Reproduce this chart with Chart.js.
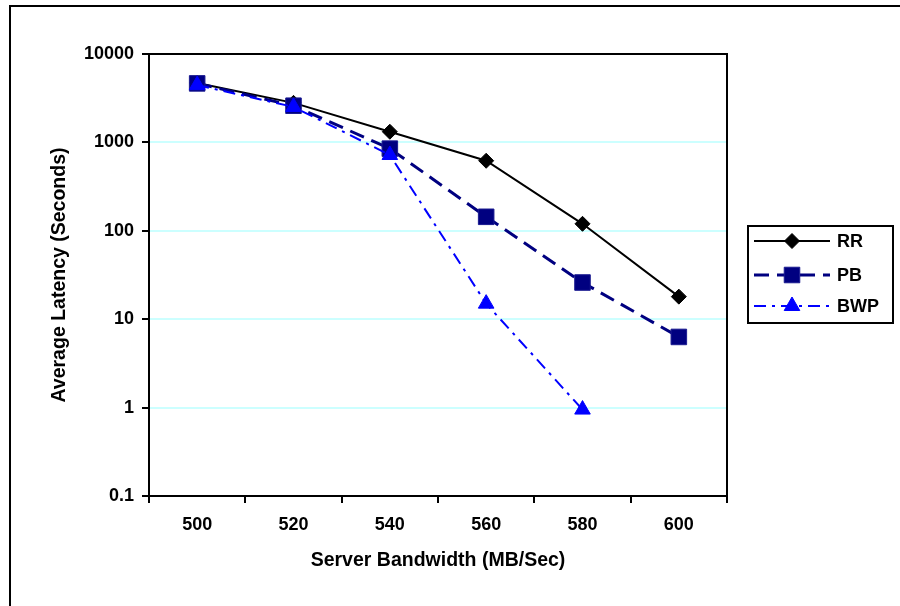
<!DOCTYPE html>
<html>
<head>
<meta charset="utf-8">
<script src="https://cdn.jsdelivr.net/npm/chart.js@4"></script>
<style>
  html, body { margin: 0; padding: 0; background: #fff; }
  canvas { display: block; }
</style>
</head>
<body>
<canvas id="latencyChart" width="900" height="606"></canvas>
<script>
// Data
const categories = ["500", "520", "540", "560", "580", "600"];
const rr  = [4700, 2800, 1320, 620, 120, 18];
const pb  = [4650, 2600, 850, 144, 26, 6.3];
const bwp = [4450, 2520, 720, 15, 0.95, null];
const yTicks = [0.1, 1, 10, 100, 1000, 10000];

const FONT = "'Liberation Sans', Arial, sans-serif";

// Frame around the chart, plot border and the boxed legend
const framePlugin = {
    id: "frame",
    beforeDraw(chart){
        const ctx = chart.ctx;
        ctx.save();
        ctx.fillStyle = "#fff";
        ctx.fillRect(0, 0, chart.width, chart.height);
        ctx.strokeStyle = "#000";
        ctx.lineWidth = 2;
        ctx.strokeRect(10, 6, 950, 650);
        ctx.restore();
    },
    afterDraw(chart){
        const ctx = chart.ctx;
        const a = chart.chartArea;
        ctx.save();
        ctx.strokeStyle = "#000";
        ctx.lineWidth = 2;
        ctx.beginPath();
        ctx.moveTo(a.left, a.top);
        ctx.lineTo(a.right, a.top);
        ctx.lineTo(a.right, a.bottom);
        ctx.stroke();

        // legend
        ctx.strokeRect(748, 226, 145, 97);
        const rows = [241, 275, 306];
        chart.data.datasets.forEach((ds, i) => {
            const y = rows[i];
            ctx.strokeStyle = ds.borderColor;
            ctx.lineWidth = ds.borderWidth;
            ctx.setLineDash(ds.borderDash || []);
            ctx.beginPath();
            ctx.moveTo(754, y);
            ctx.lineTo(830, y);
            ctx.stroke();
            ctx.setLineDash([]);
            ctx.fillStyle = ds.pointBackgroundColor;
            ctx.strokeStyle = ds.pointBorderColor;
            ctx.lineWidth = 1;
            Chart.helpers.drawPoint(ctx, {
                pointStyle: ds.pointStyle,
                radius: ds.pointRadius,
                rotation: 0,
                borderWidth: 1
            }, 792, y);
            ctx.fillStyle = "#000";
            ctx.font = "bold 18px " + FONT;
            ctx.textAlign = "left";
            ctx.textBaseline = "middle";
            ctx.fillText(ds.label, 837, y + 1);
        });
        ctx.restore();
    }
};

new Chart(document.getElementById("latencyChart"), {

    type: "line",

    data: {
        labels: categories,
        datasets: [
            {
                label: "RR",
                data: rr,
                order: 3,
                borderColor: "#000000",
                borderWidth: 2,
                pointStyle: "rectRot",
                pointRadius: 7.5,
                pointBorderWidth: 1,
                pointBackgroundColor: "#000000",
                pointBorderColor: "#000000",
                tension: 0
            },
            {
                label: "PB",
                data: pb,
                order: 2,
                borderColor: "#000080",
                borderWidth: 3,
                borderDash: [15, 8],
                pointStyle: "rect",
                pointRadius: 11,
                pointBorderWidth: 1,
                pointBackgroundColor: "#000080",
                pointBorderColor: "#1a1a90",
                tension: 0
            },
            {
                label: "BWP",
                data: bwp,
                order: 1,
                borderColor: "#0000FF",
                borderWidth: 2,
                borderDash: [12, 6, 3, 6],
                pointStyle: "triangle",
                pointRadius: 9,
                pointBorderWidth: 1,
                pointBackgroundColor: "#0000FF",
                pointBorderColor: "#0000FF",
                tension: 0
            }
        ]
    },

    options: {
        responsive: false,
        animation: false,
        devicePixelRatio: 1,
        layout: {
            padding: { left: 0, top: 54, right: 173, bottom: 0 }
        },
        plugins: {
            legend: { display: false },
            tooltip: { enabled: false }
        },
        scales: {
            x: {
                type: "category",
                offset: true,
                afterFit(scale){ scale.height = 110; },
                grid: {
                    offset: true,
                    drawOnChartArea: false,
                    color: "#000",
                    lineWidth: 2,
                    tickLength: 7
                },
                border: { color: "#000", width: 2 },
                ticks: {
                    color: "#000",
                    padding: 11,
                    maxRotation: 0,
                    font: { family: FONT, size: 18, weight: "bold" }
                },
                title: {
                    display: true,
                    text: "Server Bandwidth (MB/Sec)",
                    color: "#000",
                    padding: { top: 0, bottom: 34 },
                    font: { family: FONT, size: 19.5, weight: "bold" }
                }
            },
            y: {
                type: "logarithmic",
                min: 0.1,
                max: 10000,
                afterFit(scale){ scale.width = 149; },
                afterBuildTicks(scale){
                    scale.ticks = yTicks.map(v => ({ value: v, major: true }));
                },
                grid: {
                    color: "#ccffff",
                    lineWidth: 2,
                    tickColor: "#000",
                    tickLength: 7
                },
                border: { color: "#000", width: 2 },
                ticks: {
                    color: "#000",
                    padding: 8,
                    autoSkip: false,
                    font: { family: FONT, size: 18, weight: "bold" },
                    callback: (v) => String(v)
                },
                title: {
                    display: true,
                    text: "Average Latency (Seconds)",
                    color: "#000",
                    padding: { top: 48, bottom: 0 },
                    font: { family: FONT, size: 19.5, weight: "bold" }
                }
            }
        }
    },

    plugins: [framePlugin]

});
</script>
</body>
</html>
